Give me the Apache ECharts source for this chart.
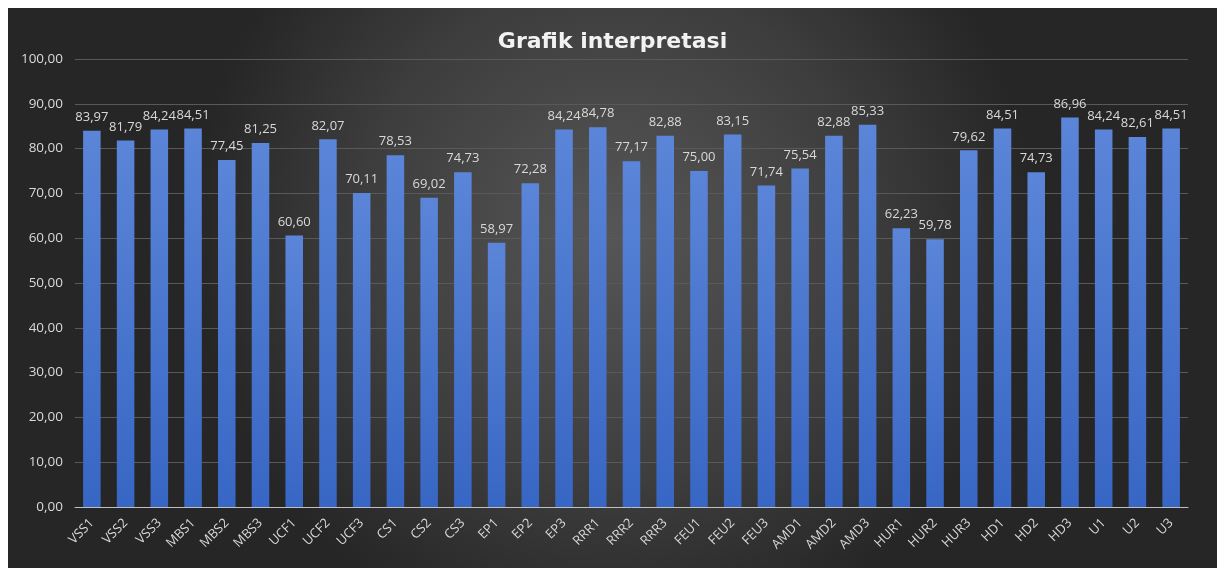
<!DOCTYPE html>
<html><head><meta charset="utf-8">
<script src="https://cdn.jsdelivr.net/npm/echarts@6/dist/echarts.min.js"></script>
<style>
html,body{margin:0;padding:0;background:#fff;width:1224px;height:568px;overflow:hidden}
#c{position:absolute;left:8px;top:8px;width:1209px;height:560px}
</style></head><body>
<div id="c"></div>
<script>
const categories = ['VSS1','VSS2','VSS3','MBS1','MBS2','MBS3','UCF1','UCF2','UCF3','CS1','CS2','CS3','EP1','EP2','EP3','RRR1','RRR2','RRR3','FEU1','FEU2','FEU3','AMD1','AMD2','AMD3','HUR1','HUR2','HUR3','HD1','HD2','HD3','U1','U2','U3'];
const values = [83.97,81.79,84.24,84.51,77.45,81.25,60.60,82.07,70.11,78.53,69.02,74.73,58.97,72.28,84.24,84.78,77.17,82.88,75.00,83.15,71.74,75.54,82.88,85.33,62.23,59.78,79.62,84.51,74.73,86.96,84.24,82.61,84.51];
const yTicks = {min:0, max:100, interval:10};
const fmt = v => Number(v).toFixed(2).replace('.', ',');
const chart = echarts.init(document.getElementById('c'));
chart.setOption({
  backgroundColor: {type:'radial', x:0.5, y:0.4, r:0.75, colorStops:[{offset:0,color:'#565656'},{offset:0.6,color:'#3d3d3d'},{offset:1,color:'#262626'}]},
  title:{text:'Grafik interpretasi', left:'center', top:18, textStyle:{color:'#f2f2f2', fontFamily:'DejaVu Sans', fontWeight:'bold', fontSize:22}},
  grid:{left:67, right:29, top:51, bottom:61},
  xAxis:{type:'category', data:categories,
    axisLine:{lineStyle:{color:'#bfbfbf', width:1}}, axisTick:{show:false},
    axisLabel:{color:'#d9d9d9', rotate:45, fontFamily:'Open Sans', fontSize:13, interval:0, margin:14}},
  yAxis:{type:'value', min:yTicks.min, max:yTicks.max, interval:yTicks.interval,
    axisLine:{show:false}, axisTick:{show:false},
    splitLine:{lineStyle:{color:'#595959', width:1}},
    axisLabel:{color:'#d9d9d9', fontFamily:'Open Sans', fontSize:13.5, formatter:fmt, margin:12}},
  series:[{type:'bar', data:values, barWidth:'52%',
    itemStyle:{color:{type:'linear', x:0,y:0,x2:0,y2:1, colorStops:[{offset:0,color:'#5a85d8'},{offset:1,color:'#3866c4'}]}},
    label:{show:true, position:'top', color:'#d9d9d9', fontFamily:'Open Sans', fontSize:13, distance:7, formatter:p=>fmt(p.value)}}]
});
</script></body></html>
